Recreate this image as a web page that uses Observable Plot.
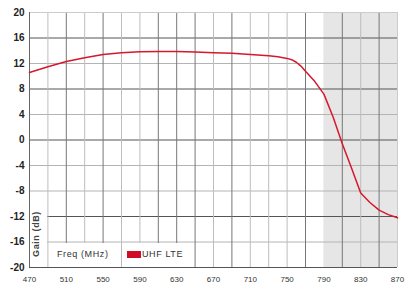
<!DOCTYPE html>
<html>
<head>
<meta charset="utf-8">
<script src="https://cdn.jsdelivr.net/npm/d3@7"></script>
<script src="https://cdn.jsdelivr.net/npm/@observablehq/plot@0.6"></script>
<style>
  html, body { margin: 0; padding: 0; background: #fff; }
  #wrap { position: relative; width: 405px; height: 286px; font-family: "Liberation Sans", Arial, sans-serif; }
  .box { position: absolute; background: #fff; }
  .lbl { position: absolute; font-size: 9px; color: #333; letter-spacing: 0.6px; white-space: nowrap; }
</style>
</head>
<body>
<div id="wrap"></div>
<script>
// Data
const freq = [470, 490, 510, 530, 550, 570, 590, 610, 630, 650, 670, 690, 710, 730, 740, 750, 755, 760, 765, 770, 780, 790, 800, 810, 820, 830, 840, 850, 860, 870];
const gain = [10.6, 11.5, 12.3, 12.9, 13.4, 13.7, 13.85, 13.9, 13.9, 13.8, 13.7, 13.6, 13.4, 13.2, 13.05, 12.8, 12.6, 12.2, 11.6, 10.8, 9.2, 7.2, 3.6, -0.6, -4.4, -8.3, -9.8, -11.0, -11.7, -12.2];
const seriesName = "UHF LTE";
const xTicks = [470, 510, 550, 590, 630, 670, 710, 750, 790, 830, 870];
const yTicks = [20, 16, 12, 8, 4, 0, -4, -8, -12, -16, -20];
const gridXDark = [510, 550, 610, 630, 650, 690, 770, 810, 850];
const gridXLight = [490, 530, 570, 590, 670, 710, 730, 750, 830];
const gridYDark = [16, 8, 0, -12];
const gridYLight = [12, 4, -4, -8, -16];
const shadedBand = [790, 870];
const xDomain = [470, 870];
const yDomain = [-20, 20];

const data = freq.map((f, i) => ({f, g: gain[i]}));

const chart = Plot.plot({
  width: 405,
  height: 286,
  marginLeft: 29,
  marginRight: 8,
  marginTop: 12,
  marginBottom: 19,
  style: {fontFamily: '"Liberation Sans", Arial, sans-serif', background: "#fff", overflow: "visible"},
  x: {domain: xDomain, axis: null},
  y: {domain: yDomain, axis: null},
  marks: [
    Plot.rect([shadedBand], {x1: d => d[0], x2: d => d[1], y1: yDomain[0], y2: yDomain[1], fill: "#e6e6e6"}),
    Plot.ruleY(gridYLight, {stroke: "#b4b4b4", strokeWidth: 1}),
    Plot.ruleY(gridYDark, {stroke: "#555", strokeWidth: 1}),
    Plot.ruleX(gridXLight, {stroke: "#bdbdbd", strokeWidth: 1}),
    Plot.ruleX(gridXDark, {stroke: "#777", strokeWidth: 1}),
    Plot.ruleY([yDomain[1]], {stroke: "#ccc"}),
    Plot.ruleX([xDomain[1]], {stroke: "#ccc"}),
    Plot.ruleY([yDomain[0]], {stroke: "#555"}),
    Plot.ruleX([xDomain[0]], {stroke: "#666"}),
    Plot.line(data, {x: "f", y: "g", stroke: "#d6182c", strokeWidth: 1.5, curve: "linear"}),
    Plot.axisY({ticks: yTicks, label: null, tickSize: 0, tickPadding: 5, fontSize: 10, fontWeight: "bold", fill: "#222", tickFormat: d => String(d)}),
    Plot.axisX({ticks: xTicks, label: null, tickSize: 0, tickPadding: 9, fontSize: 8, fill: "#333", tickFormat: d => String(d)})
  ]
});

const wrap = document.getElementById("wrap");
wrap.appendChild(chart);

function addBox(left, top, w, h) {
  const b = document.createElement("div");
  b.className = "box";
  Object.assign(b.style, {left: left + "px", top: top + "px", width: w + "px", height: h + "px"});
  wrap.appendChild(b);
}
// legend / label panels inside the plot area
addBox(30, 200, 17, 66.5);
addBox(49, 243, 71, 23.5);
addBox(122, 243, 72, 23.5);

const gl = document.createElement("div");
gl.className = "lbl";
gl.textContent = "Gain (dB)";
Object.assign(gl.style, {left: "36px", top: "234px", transform: "translate(-50%, -50%) rotate(-90deg)", fontWeight: "bold", color: "#444"});
wrap.appendChild(gl);

const fl = document.createElement("div");
fl.className = "lbl";
fl.textContent = "Freq (MHz)";
Object.assign(fl.style, {left: "57px", top: "249px"});
wrap.appendChild(fl);

const sw = document.createElement("div");
Object.assign(sw.style, {position: "absolute", left: "127px", top: "251px", width: "14px", height: "7px", background: "#d10a26"});
wrap.appendChild(sw);

const ll = document.createElement("div");
ll.className = "lbl";
ll.textContent = seriesName;
Object.assign(ll.style, {left: "142px", top: "249px"});
wrap.appendChild(ll);
</script>
</body>
</html>
